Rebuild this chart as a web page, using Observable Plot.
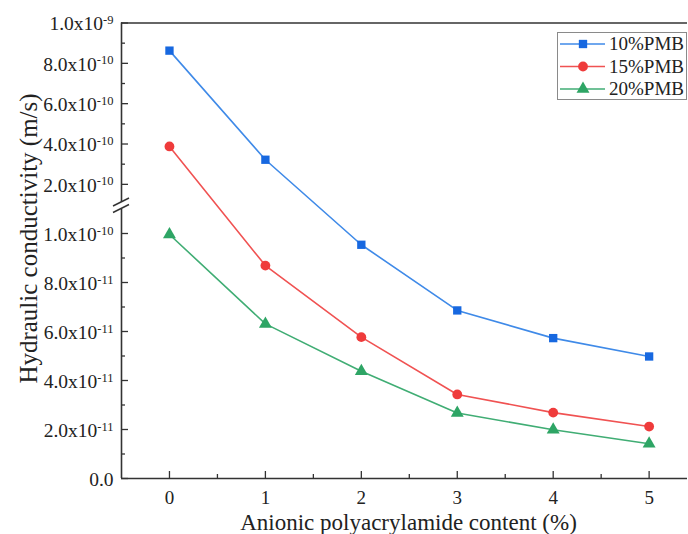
<!DOCTYPE html>
<html>
<head>
<meta charset="utf-8">
<script src="https://cdn.jsdelivr.net/npm/d3@7"></script>
<script src="https://cdn.jsdelivr.net/npm/@observablehq/plot@0.6"></script>
<style>
  body { margin: 0; background: #fff; }
  #wrap { position: relative; width: 688px; height: 534px; }
  #wrap svg, #wrap text { font-family: "Liberation Serif", "Times New Roman", Tinos, "DejaVu Serif", serif; }
  #legend { position: absolute; left: 557px; top: 32px; width: 130px; height: 68px; box-sizing: border-box; border: 1px solid #8a8a8a; background: #fff; }
</style>
</head>
<body>
<div id="wrap"><div id="legend"></div></div>
<script>
// ---- data ----
const xValues = [0, 1, 2, 3, 4, 5];
const seriesNames = ["10%PMB", "15%PMB", "20%PMB"];
const pmb10 = [8.63e-10, 3.22e-10, 9.54e-11, 6.86e-11, 5.73e-11, 4.98e-11];
const pmb15 = [3.88e-10, 8.69e-11, 5.77e-11, 3.43e-11, 2.69e-11, 2.12e-11];
const pmb20 = [9.96e-11, 6.31e-11, 4.38e-11, 2.67e-11, 1.99e-11, 1.42e-11];
const xTicks = [0, 1, 2, 3, 4, 5];
const xMinorTicks = [0.5, 1.5, 2.5, 3.5, 4.5];
const yTicks = [0, 2e-11, 4e-11, 6e-11, 8e-11, 1e-10, 2e-10, 4e-10, 6e-10, 8e-10, 1e-9];
const yTickLabels = ["0.0", "2.0x10^-11", "4.0x10^-11", "6.0x10^-11", "8.0x10^-11", "1.0x10^-10",
                     "2.0x10^-10", "4.0x10^-10", "6.0x10^-10", "8.0x10^-10", "1.0x10^-9"];
const yMinorTicks = [1e-11, 3e-11, 5e-11, 7e-11, 9e-11, 3e-10, 5e-10, 7e-10, 9e-10];
const xTitle = "Anionic polyacrylamide content (%)";
const yTitle = "Hydraulic conductivity (m/s)";

// ---- styling ----
const FONT = '"Liberation Serif", "Times New Roman", Tinos, "DejaVu Serif", serif';
const lineColors = ["#3f8ae8", "#f05252", "#40ad74"];
const markColors = ["#1768e0", "#ef3b3b", "#2ea565"];
const symbols = ["square", "circle", "triangle"];
const symbolR = [4.7, 4.9, 4.8];
const axisColor = "#333";

const W = 688, H = 534, mL = 121, mR = 1, mT = 22, mB = 56;
const frameW = W - mL - mR, frameH = H - mT - mB;
const xDomain = [-0.5, 5.4];
const brkLo = 1.1e-10, brkHi = 1.1e-10 * 1.00001, yMax = 1e-9;

const allSeries = [pmb10, pmb15, pmb20];
const rows = [];
allSeries.forEach((vals, s) => vals.forEach((v, i) => rows.push({x: xValues[i], y: v, series: seriesNames[s]})));
const labelMap = new Map(yTicks.map((t, i) => [t, yTickLabels[i]]));

const marks = [
  Plot.ruleY([0, yMax], {stroke: axisColor, strokeWidth: 1.6}),
  Plot.ruleX([{a: 0, b: brkLo}, {a: brkHi, b: yMax}], {x: () => xDomain[0], y1: "a", y2: "b", stroke: axisColor, strokeWidth: 1.6}),
  Plot.tickX(xTicks, {x: d => d, insetTop: frameH - 7, stroke: axisColor, strokeWidth: 1.3}),
  Plot.tickX(xMinorTicks, {x: d => d, insetTop: frameH - 4, stroke: axisColor, strokeWidth: 1.3}),
  Plot.tickY(yTicks, {y: d => d, insetRight: frameW - 7, stroke: axisColor, strokeWidth: 1.3}),
  Plot.tickY(yMinorTicks, {y: d => d, insetRight: frameW - 4, stroke: axisColor, strokeWidth: 1.3}),
  Plot.axisX({ticks: xTicks, tickSize: 0, tickPadding: 12, fontSize: 19, label: null, tickFormat: d => String(d)}),
  Plot.axisY({ticks: yTicks, tickSize: 0, tickPadding: 8, dy: 1, fontSize: 19.5, label: null, tickFormat: d => labelMap.get(d)}),
  Plot.text([xTitle], {text: d => d, frameAnchor: "bottom", textAnchor: "middle", dx: 4, dy: 44, lineAnchor: "middle", fontSize: 23}),
  Plot.text([yTitle], {text: d => d, frameAnchor: "left", textAnchor: "middle", dx: -93, dy: -12, rotate: -90, lineAnchor: "middle", fontSize: 25})
];
seriesNames.forEach((name, s) => {
  const data = rows.filter(r => r.series === name);
  marks.push(Plot.line(data, {x: "x", y: "y", stroke: lineColors[s], strokeWidth: 1.6}));
});
seriesNames.forEach((name, s) => {
  const data = rows.filter(r => r.series === name);
  marks.push(Plot.dot(data, {x: "x", y: "y", symbol: () => symbols[s], r: symbolR[s], fill: markColors[s], stroke: "none"}));
});

const chart = Plot.plot({
  width: W, height: H,
  marginLeft: mL, marginRight: mR, marginTop: mT, marginBottom: mB,
  x: {domain: xDomain, axis: null},
  y: {type: "linear", domain: [0, brkLo, brkHi, yMax], range: [478, 208.5, 202, 22.5], axis: null},
  symbol: {type: "identity"},
  style: {fontFamily: FONT, color: "#222", background: "#fff", overflow: "visible"},
  marks
});
document.getElementById("wrap").prepend(chart);

const ns = "http://www.w3.org/2000/svg";
chart.querySelectorAll('[aria-label="y-axis tick label"] text').forEach(t => {
  const parts = t.textContent.split("^");
  if (parts.length === 2) {
    t.textContent = parts[0];
    const sup = document.createElementNS(ns, "tspan");
    sup.setAttribute("dy", "-0.5em");
    sup.setAttribute("font-size", "12.5");
    sup.textContent = parts[1];
    t.appendChild(sup);
  }
});

const xs = chart.scale("x"), ys = chart.scale("y");
const sx = xs.apply(xDomain[0]);
const g = d3.select(chart).append("g").attr("stroke", axisColor).attr("stroke-width", 1.4);
[ys.apply(brkLo), ys.apply(brkHi)].forEach(py => {
  g.append("line").attr("x1", sx - 8).attr("y1", py + 4).attr("x2", sx + 8).attr("y2", py - 4);
});

const lg = d3.select("#legend").append("svg").attr("width", 128).attr("height", 66);
seriesNames.forEach((name, s) => {
  const cy = 11 + s * 22.5;
  lg.append("line").attr("x1", 2).attr("x2", 47).attr("y1", cy).attr("y2", cy).attr("stroke", lineColors[s]).attr("stroke-width", 1.6);
  const sym = {square: d3.symbolSquare, circle: d3.symbolCircle, triangle: d3.symbolTriangle}[symbols[s]];
  lg.append("path").attr("transform", `translate(25,${cy})`).attr("d", d3.symbol(sym, Math.PI * symbolR[s] ** 2)()).attr("fill", markColors[s]);
  lg.append("text").attr("x", 51).attr("y", cy).attr("dy", "0.33em").attr("font-size", 19).attr("fill", "#222")
    .attr("font-family", FONT).text(name);
});
</script>
</body>
</html>
